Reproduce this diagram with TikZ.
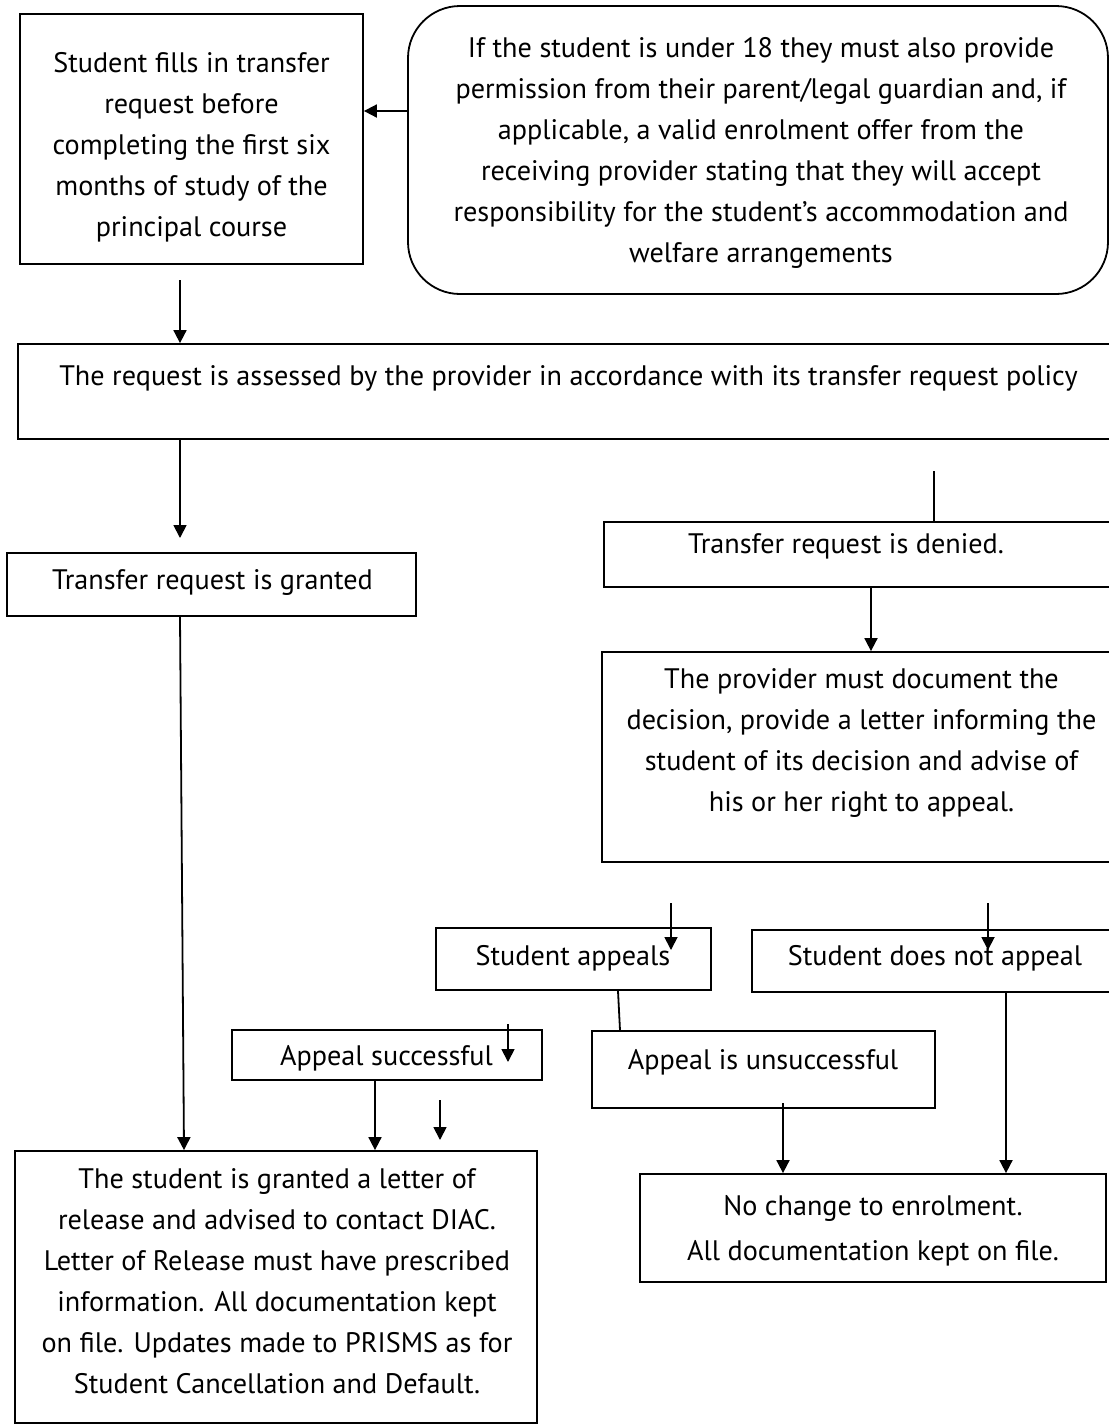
\documentclass[tikz,border=0pt]{standalone}
\usepackage{fontspec}
\setmainfont{PT Sans}
\usetikzlibrary{arrows.meta,fit}
\begin{document}
\begin{tikzpicture}[x=0.5pt,y=-0.5pt,
  box/.style={draw, line width=0.9pt, inner sep=0pt, rectangle},
  txt/.style={align=center, inner sep=0pt, font=\fontsize{14.1}{20.5}\selectfont},
  arr/.style={line width=0.9pt, -{Triangle[length=6.5pt,width=6.5pt]}},
  ln/.style={line width=0.9pt}]
\useasboundingbox[fill=white] (0,0) rectangle (1109,1426);

% boxes
\node[box, fit={(20,14) (363,264)}] (A) {};
\node[box, rounded corners=26pt, fit={(408,6) (1108,294)}] (B) {};
\node[box, fit={(18,344) (1118,439)}] (C) {};
\node[box, fit={(7,553) (416,616)}] (D) {};
\node[box, fit={(604,522) (1118,587)}] (E) {};
\node[box, fit={(602,652) (1118,862)}] (F) {};
\node[box, fit={(436,928) (711,990)}] (SA) {};
\node[box, fit={(752,930) (1118,992)}] (SNA) {};
\node[box, fit={(232,1030) (542,1080)}] (AS) {};
\node[box, fit={(592,1031) (935,1108)}] (AU) {};
\node[box, fit={(15,1151) (537,1423)}] (G) {};
\node[box, fit={(640,1174) (1106,1282)}] (NC) {};

% texts
\node[txt] (At) at (191.5,147) {Student fills in transfer\\request before\\completing the first six\\months of study of the\\principal course};
\node[txt] (Bt) at (761,152.5) {If the student is under 18 they must also provide\\permission from their parent/legal guardian and, if\\applicable, a valid enrolment offer from the\\receiving provider stating that they will accept\\responsibility for the student’s accommodation and\\welfare arrangements};
\node[txt] (Ct) at (568.5,378) {The request is assessed by the provider in accordance with its transfer request policy};
\node[txt] (Dt) at (212.5,582) {Transfer request is granted};
\node[txt] (Et) at (846,546) {Transfer request is denied.};
\node[txt] (Ft) at (861.5,742.5) {The provider must document the\\decision, provide a letter informing the\\student of its decision and advise of\\his or her right to appeal.};
\node[txt] (SAt) at (573,958) {Student appeals};
\node[txt] (SNAt) at (935,958) {Student does not appeal};
\node[txt] (ASt) at (386.5,1058) {Appeal successful};
\node[txt] (AUt) at (763,1062) {Appeal is unsuccessful};
\node[txt] (Gt) at (277,1281) {The student is granted a letter of\\release and advised to contact DIAC.\\Letter of Release must have prescribed\\information. All documentation kept\\on file. Updates made to PRISMS as for\\Student Cancellation and Default.};
\node[txt] (NCt) at (873,1231) {No change to enrolment.\\[2pt]All documentation kept on file.};

% free ends
\coordinate (p2) at (180,280);
\coordinate (p3) at (180,538);
\coordinate (p4) at (184,0);
\coordinate (p5) at (934,471);
\coordinate (p6) at (871,0);
\coordinate (p7a) at (671,903);
\coordinate (p7b) at (671,950);
\coordinate (p8a) at (988,903);
\coordinate (p8b) at (988,950);
\coordinate (p9a) at (618,0);
\coordinate (p9b) at (620,0);
\coordinate (p10) at (1006,0);
\coordinate (p11) at (783,1103);
\coordinate (p12a) at (508,1024);
\coordinate (p12b) at (508,1062);
\coordinate (p13) at (375,0);
\coordinate (p14a) at (440,1100);
\coordinate (p14b) at (440,1140);

% connectors
\draw[arr] ([yshift=19.5pt]B.west) -- ([yshift=19.5pt]B.west -| A.east);
\draw[arr] (p2) -- (C.north -| p2);
\draw[arr] (C.south -| p3) -- (p3);
\draw[arr] (D.south -| p3) -- (G.north -| p4);
\draw[ln] (p5) -- (E.north -| p5);
\draw[arr] (E.south -| p6) -- (F.north -| p6);
\draw[arr] (p7a) -- (p7b);
\draw[arr] (p8a) -- (p8b);
\draw[ln] (SA.south -| p9a) -- (AU.north -| p9b);
\draw[arr] (SNA.south -| p10) -- (NC.north -| p10);
\draw[arr] (p11) -- (NC.north -| p11);
\draw[arr] (p12a) -- (p12b);
\draw[arr] (AS.south -| p13) -- (G.north -| p13);
\draw[arr] (p14a) -- (p14b);
\end{tikzpicture}
\end{document}
